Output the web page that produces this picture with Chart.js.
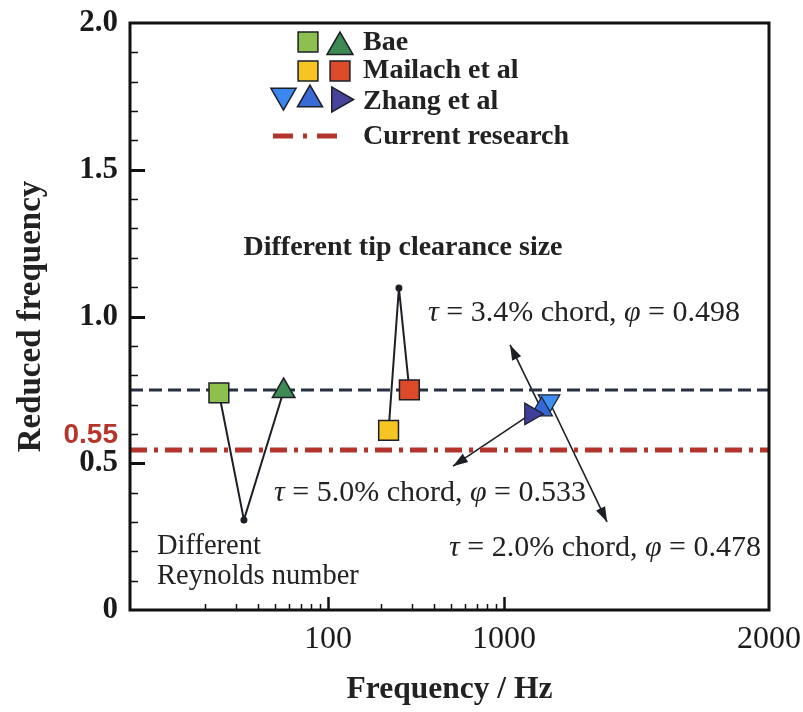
<!DOCTYPE html>
<html lang="en">
<head>
<meta charset="UTF-8">
<title>Reduced frequency vs frequency</title>
<style>
  * { margin: 0; padding: 0; box-sizing: border-box; }
  body { background: #fff; width: 803px; height: 712px; overflow: hidden; }
  .chart-container { position: relative; width: 803px; height: 712px; }
</style>
</head>
<body>
<div class="chart-container"><canvas id="rfChart"></canvas></div>

<script src="https://cdn.jsdelivr.net/npm/chart.js"></script>
<script>
// values (frequency in Hz, reduced frequency)
const baeHz = [24, 56];
const baeRf = [0.74, 0.746];
const mailachHz = [221, 290];
const mailachRf = [0.612, 0.75];
const zhangHz = [1170, 1142, 1102];
const zhangRf = [0.712, 0.683, 0.668];
const trendRf = 0.75;     // black dashed line
const currentRf = 0.545;  // current research
const xTickHz = [100, 1000, 2000];
const xTickLabels = ['100', '1000', '2000'];
const yTickValues = [0, 0.5, 1.0, 1.5, 2.0];
const yTickLabels = ['0', '0.5', '1.0', '1.5', '2.0'];

// annotation anchors [Hz, reduced frequency]
const reynoldsDip = [33.3, 0.307];
const tipApex = [253, 1.097];
const arrowTo34 = [1023, 0.903];
const arrowTo50 = [513, 0.49];
const arrowTo20 = [1389, 0.30];

// the original axis is logarithmic up to 1000 Hz, then stretched linearly to 2000 Hz
const LIN_SPAN = 1.506;
function hzToAxis(hz) {
    return hz <= 1000 ? Math.log10(hz) : 3 + (hz - 1000) / 1000 * LIN_SPAN;
}
const xMin = hzToAxis(7.5);
const xMax = hzToAxis(2000);

const toPoints = (hz, rf) => hz.map((h, i) => ({ x: hzToAxis(h), y: rf[i] }));

const INK = '#1c1f26';
const SERIF = '"Liberation Serif", "Times New Roman", serif';

// thin annotation lines and arrows, drawn under the markers
const annotationPlugin = {
    id: 'annotations',
    beforeDatasetsDraw(chart) {
        const { ctx, scales: { x, y } } = chart;
        const px = (p) => [x.getPixelForValue(hzToAxis(p[0])), y.getPixelForValue(p[1])];
        const bae = chart.getDatasetMeta(0).data;
        const mai = chart.getDatasetMeta(1).data;
        const zh = chart.getDatasetMeta(2).data;

        ctx.save();
        ctx.strokeStyle = INK;
        ctx.fillStyle = INK;
        ctx.lineWidth = 2;

        // Reynolds number dip
        const dip = px(reynoldsDip);
        ctx.beginPath();
        ctx.moveTo(bae[0].x, bae[0].y);
        ctx.lineTo(dip[0], dip[1]);
        ctx.lineTo(bae[1].x, bae[1].y);
        ctx.stroke();
        ctx.beginPath();
        ctx.arc(dip[0], dip[1], 3.5, 0, Math.PI * 2);
        ctx.fill();

        // tip clearance peak
        const apex = px(tipApex);
        ctx.beginPath();
        ctx.moveTo(mai[0].x, mai[0].y);
        ctx.lineTo(apex[0], apex[1]);
        ctx.lineTo(mai[1].x, mai[1].y);
        ctx.stroke();
        ctx.beginPath();
        ctx.arc(apex[0], apex[1], 3.5, 0, Math.PI * 2);
        ctx.fill();

        // arrows from Zhang et al markers to their labels
        const arrow = (from, to) => {
            ctx.lineWidth = 1.6;
            ctx.beginPath();
            ctx.moveTo(from.x, from.y);
            ctx.lineTo(to[0], to[1]);
            ctx.stroke();
            const a = Math.atan2(to[1] - from.y, to[0] - from.x);
            ctx.beginPath();
            ctx.moveTo(to[0], to[1]);
            ctx.lineTo(to[0] - 15 * Math.cos(a) + 5 * Math.sin(a), to[1] - 15 * Math.sin(a) - 5 * Math.cos(a));
            ctx.lineTo(to[0] - 15 * Math.cos(a) - 5 * Math.sin(a), to[1] - 15 * Math.sin(a) + 5 * Math.cos(a));
            ctx.closePath();
            ctx.fill();
        };
        arrow(zh[1], px(arrowTo34));
        arrow(zh[2], px(arrowTo50));
        arrow(zh[0], px(arrowTo20));
        ctx.restore();
    }
};

// box, inward ticks, legend and text labels
const framePlugin = {
    id: 'frame',
    afterDraw(chart) {
        const { ctx, chartArea: a, scales: { x, y } } = chart;
        ctx.save();
        ctx.strokeStyle = '#111';

        // y ticks
        for (let v = 0.1; v < 2.0; v += 0.1) {
            const major = Math.abs(v * 2 - Math.round(v * 2)) < 1e-6;
            const py = Math.round(y.getPixelForValue(v)) + 0.5;
            ctx.lineWidth = major ? 3 : 1.5;
            ctx.beginPath();
            ctx.moveTo(a.left, py);
            ctx.lineTo(a.left + (major ? 15 : 8), py);
            ctx.stroke();
        }
        // x ticks (log decades)
        [10, 100].forEach(dec => {
            for (let k = 2; k <= 10; k++) {
                const hz = dec * k;
                const major = k === 10;
                const ppx = Math.round(x.getPixelForValue(hzToAxis(hz))) + 0.5;
                ctx.lineWidth = major ? 2.5 : 1.5;
                ctx.beginPath();
                ctx.moveTo(ppx, a.bottom);
                ctx.lineTo(ppx, a.bottom - (major ? 13 : 6));
                ctx.stroke();
            }
        });
        // box
        ctx.lineWidth = 3;
        ctx.strokeRect(a.left, a.top, a.right - a.left, a.bottom - a.top);

        // legend
        const H = Chart.helpers;
        const mark = (style, r, rot, fill, cx, cy) => {
            ctx.fillStyle = fill;
            ctx.strokeStyle = INK;
            ctx.lineWidth = 1.5;
            H.drawPoint(ctx, { pointStyle: style, radius: r, rotation: rot, borderWidth: 1.5 }, cx, cy);
        };
        mark('rect', 14, 0, '#8dc04f', 308, 42);
        mark('triangle', 15, 0, '#3d8a55', 340, 47);
        mark('rect', 14, 0, '#f7c523', 308, 71);
        mark('rect', 14, 0, '#dc4a2a', 340, 71);
        mark('triangle', 14.5, 180, '#3b86ef', 283.5, 95.5);
        mark('triangle', 14.5, 0, '#3a6bd4', 310, 99.5);
        mark('triangle', 14.5, 90, '#45449a', 339, 99.5);
        ctx.strokeStyle = '#b3342c';
        ctx.lineWidth = 5;
        ctx.setLineDash([20, 10, 4, 10]);
        ctx.beginPath();
        ctx.moveTo(273, 136);
        ctx.lineTo(343, 136);
        ctx.stroke();
        ctx.setLineDash([]);

        ctx.fillStyle = '#222';
        ctx.textBaseline = 'middle';
        ctx.textAlign = 'left';
        ctx.font = 'bold 28px ' + SERIF;
        ctx.fillText('Bae', 363, 43);
        ctx.fillText('Mailach et al', 363, 71);
        ctx.fillText('Zhang et al', 363, 102);
        ctx.fillText('Current research', 363, 137);

        // annotation texts
        ctx.textAlign = 'center';
        ctx.fillText('Different tip clearance size', 403, 248);
        ctx.textAlign = 'left';
        ctx.font = '28.5px ' + SERIF;
        ctx.fillText('Different', 157, 547);
        ctx.fillText('Reynolds number', 157, 577);

        const runs = (parts, px0, py0) => {
            let cx = px0;
            parts.forEach(([t, it]) => {
                ctx.font = (it ? 'italic ' : '') + '30px ' + SERIF;
                ctx.fillText(t, cx, py0);
                cx += ctx.measureText(t).width;
            });
        };
        runs([['τ', true], [' = 3.4% chord, ', false], ['φ', true], [' = 0.498', false]], 428, 313);
        runs([['τ', true], [' = 5.0% chord, ', false], ['φ', true], [' = 0.533', false]], 274, 493);
        runs([['τ', true], [' = 2.0% chord, ', false], ['φ', true], [' = 0.478', false]], 449, 548);

        // red 0.55 marker label on the y axis
        ctx.fillStyle = '#b5352b';
        ctx.textAlign = 'right';
        ctx.font = 'bold 28px "Liberation Sans", Arial, sans-serif';
        ctx.fillText('0.55', 118, 435);
        ctx.restore();
    }
};

const ctx = document.getElementById('rfChart').getContext('2d');
const rfChart = new Chart(ctx, {
    type: 'scatter',
    data: {
        datasets: [
            {
                label: 'Bae',
                data: toPoints(baeHz, baeRf),
                pointStyle: ['rect', 'triangle'],
                pointRadius: [14, 13],
                pointRotation: [0, 0],
                pointBackgroundColor: ['#8dc04f', '#3d8a55'],
                pointBorderColor: INK,
                pointBorderWidth: 1.5
            },
            {
                label: 'Mailach et al',
                data: toPoints(mailachHz, mailachRf),
                pointStyle: ['rect', 'rect'],
                pointRadius: [14, 14],
                pointBackgroundColor: ['#f7c523', '#dc4a2a'],
                pointBorderColor: INK,
                pointBorderWidth: 1.5
            },
            {
                label: 'Zhang et al',
                data: toPoints(zhangHz, zhangRf),
                pointStyle: ['triangle', 'triangle', 'triangle'],
                pointRadius: [12.5, 12.5, 12.5],
                pointRotation: [180, 0, 90],
                pointBackgroundColor: ['#3d8ef0', '#3567d6', '#3f3f9a'],
                pointBorderColor: INK,
                pointBorderWidth: 1.2
            },
            {
                type: 'line',
                label: 'trend',
                data: [{ x: xMin, y: trendRf }, { x: xMax, y: trendRf }],
                borderColor: '#263040',
                borderWidth: 3,
                borderDash: [13, 6],
                pointRadius: 0
            },
            {
                type: 'line',
                label: 'Current research',
                data: [{ x: xMin, y: currentRf }, { x: xMax, y: currentRf }],
                borderColor: '#b3342c',
                borderWidth: 5,
                borderDash: [17, 7, 4, 7],
                pointRadius: 0
            }
        ]
    },
    options: {
        responsive: true,
        maintainAspectRatio: false,
        animation: false,
        layout: { padding: { top: 23, right: 34, left: 0, bottom: 0 } },
        scales: {
            x: {
                type: 'linear',
                min: xMin,
                max: xMax,
                grid: { display: false, drawTicks: false },
                border: { display: false },
                afterFit(scale) {
                    scale.height = 102;
                    scale.paddingLeft = 0;
                    scale.paddingRight = 0;
                },
                afterBuildTicks(scale) {
                    scale.ticks = xTickHz.map(h => ({ value: hzToAxis(h) }));
                },
                ticks: {
                    autoSkip: false,
                    maxRotation: 0,
                    padding: 10,
                    color: '#1a1a1a',
                    font: { family: SERIF, size: 32 },
                    callback: (v, i) => xTickLabels[i]
                },
                title: {
                    display: true,
                    text: 'Frequency / Hz',
                    color: '#222',
                    font: { family: SERIF, size: 31.5, weight: 'bold' },
                    padding: { top: 0, bottom: 3 }
                }
            },
            y: {
                min: 0,
                max: 2,
                grid: { display: false, drawTicks: false },
                border: { display: false },
                afterFit(scale) {
                    scale.width = 130;
                    scale.paddingTop = 0;
                    scale.paddingBottom = 0;
                },
                afterBuildTicks(scale) {
                    scale.ticks = yTickValues.map(v => ({ value: v }));
                },
                ticks: {
                    padding: 12,
                    color: '#1a1a1a',
                    font: { family: SERIF, size: 31, weight: 'bold' },
                    callback: (v, i) => yTickLabels[i]
                },
                title: {
                    display: true,
                    text: 'Reduced frequency',
                    color: '#222',
                    font: { family: SERIF, size: 33, weight: 'bold' },
                    padding: { top: 12, bottom: 0 }
                }
            }
        },
        plugins: {
            legend: { display: false },
            tooltip: { enabled: false }
        }
    },
    plugins: [annotationPlugin, framePlugin]
});
</script>
</body>
</html>
